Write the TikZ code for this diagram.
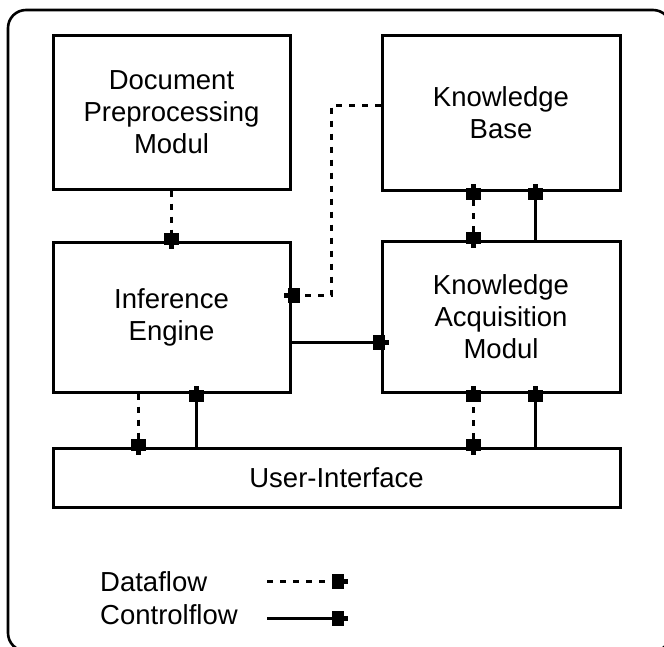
\documentclass[tikz,border=0pt]{standalone}
\usepackage{fontspec}
\setmainfont{Liberation Sans}
\usetikzlibrary{arrows.meta}
\tikzset{
  box/.style={draw, line width=3pt, rectangle, align=center, inner sep=0pt,
    font=\fontsize{27.5}{32}\selectfont},
  blk/.tip={Rectangle[length=12pt,width=15pt]Rectangle[length=4pt,width=5pt]},
  conn/.style={line width=3pt},
  data/.style={conn, dash pattern=on 6pt off 7pt},
  ctrl/.style={conn},
  tipend/.style={-blk, shorten >=-8pt},
  tipboth/.style={blk-blk, shorten >=-8pt, shorten <=-8pt},
  lbl/.style={anchor=west, inner sep=0pt, font=\fontsize{27.5}{32}\selectfont},
}
\begin{document}
\begin{tikzpicture}[x=1pt,y=-1pt]
\useasboundingbox (0,0) rectangle (664,646);
\clip (0,0) rectangle (664,646);
\draw[line width=2.6pt, rounded corners=18pt] (8,10) rectangle (671,651);

\node[box, minimum width=237pt, minimum height=154pt] (dp) at (171.5,112) {Document\\Preprocessing\\Modul};
\node[box, minimum width=238pt, minimum height=155pt] (kb) at (501,112.5) {Knowledge\\Base};
\node[box, minimum width=237pt, minimum height=150pt] (ie) at (171.5,317) {Inference\\Engine};
\node[box, minimum width=238pt, minimum height=151pt] (ka) at (501,316.5) {Knowledge\\Acquisition\\Modul};
\node[box, minimum width=567pt, minimum height=59pt] (ui) at (336.5,477.5) {User-Interface};

% dataflow connectors
\draw[data, tipend] (dp.south) -- (ie.north);
\coordinate (bend1) at (331,105);
\coordinate (bend2) at (331,295);
\draw[data, tipend] (kb.west |- bend1) -- (bend1) -- (bend2) -- (ie.east |- bend2);
\draw[data, tipboth] (ka.north -| 473,0) -- (kb.south -| 473,0);
\draw[data, tipend] (ie.south -| 138,0) -- (ui.north -| 138,0);
\draw[data, tipboth] (ui.north -| 473,0) -- (ka.south -| 473,0);

% controlflow connectors
\draw[ctrl, tipend] (ie.east |- 0,342) -- (ka.west |- 0,342);
\draw[ctrl, tipend] (ka.north -| 535,0) -- (kb.south -| 535,0);
\draw[ctrl, tipend] (ui.north -| 196,0) -- (ie.south -| 196,0);
\draw[ctrl, tipend] (ui.north -| 535,0) -- (ka.south -| 535,0);

% legend
\node[lbl] (ldata) at (100,582) {Dataflow};
\node[lbl] (lctrl) at (100,615) {Controlflow};
\coordinate (d1) at (267,581);
\coordinate (d2) at (340,581);
\coordinate (c1) at (267,618);
\coordinate (c2) at (340,618);
\draw[data, tipend] (d1) -- (d2);
\draw[ctrl, tipend] (c1) -- (c2);
\end{tikzpicture}
\end{document}
